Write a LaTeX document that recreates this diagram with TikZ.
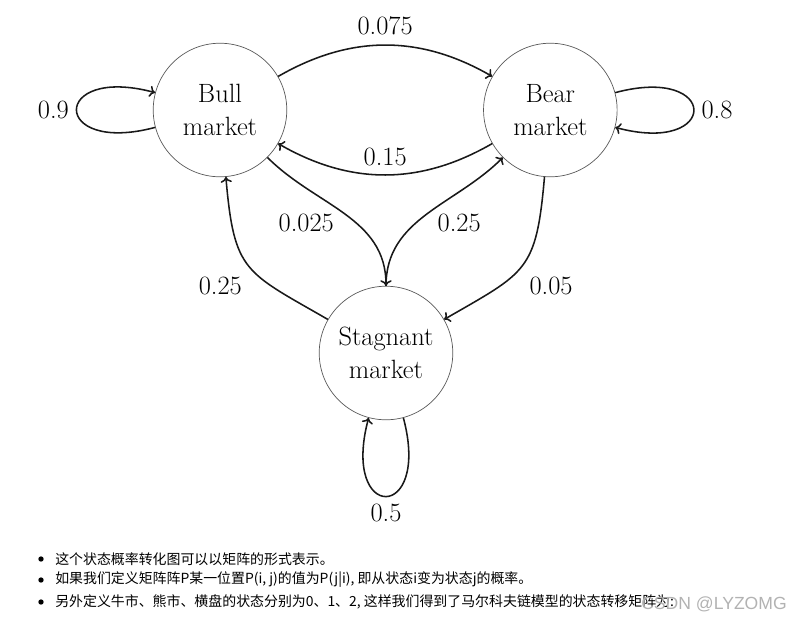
\documentclass[tikz,border=0pt]{standalone}
\usepackage{fontspec}
\newfontfamily\cjk{Noto Sans CJK SC}
\newfontfamily\wmfont{Liberation Sans}
\usetikzlibrary{arrows.meta,positioning}

\begin{document}
\begin{tikzpicture}[
    x=0.025cm, y=-0.025cm,
    font=\fontsize{18.8}{23.5}\selectfont,
    >={To[length=4pt,width=8pt]},
    market/.style={draw=black!65, line width=0.5pt, circle, minimum size=95pt, inner sep=0pt, align=center},
    trans/.style={->, line width=1.1pt, draw=black!90},
    prob/.style={inner sep=5pt},
    dot/.style={circle, fill=black, inner sep=0pt, minimum size=3.8pt},
    note/.style={anchor=west, inner sep=0pt, font=\cjk\fontsize{9.9}{12}\selectfont}
]
\useasboundingbox (0,0) rectangle (802,621);
\node[market] (bull) at (220,110) {Bull\\market};
\node[market, right=4.9cm of bull] (bear) {Bear\\market};
\node[market] (stag) at (386,353) {Stagnant\\market};

\draw[trans] (bull) to[bend left=30] node[prob, above=2pt] {0.075} (bear);
\draw[trans] (bear) to[bend left=30] node[prob, above=1pt] {0.15} (bull);
\draw[trans] (bull) to[out=-45, in=90] node[prob, pos=0.58, left=10pt] {0.025} (stag);
\draw[trans] (stag) to[out=90, in=-135] node[prob, pos=0.42, right=10pt] {0.25} (bear);
\draw[trans] (stag) to[out=150, in=-85, looseness=1.4] node[prob, pos=0.3, left=15pt] {0.25} (bull);
\draw[trans] (bear) to[out=-95, in=30, looseness=1.4] node[prob, pos=0.7, right=15pt] {0.05} (stag);
\draw[trans] (bull) to[loop left] node[prob, left] {0.9} (bull);
\draw[trans] (bear) to[loop right] node[prob, right] {0.8} (bear);
\draw[trans] (stag) to[loop below] node[prob, below] {0.5} (stag);

\node[dot] (b1) at (41,559) {};
\node[dot] (b2) at (41,580) {};
\node[dot] (b3) at (41,602) {};
\node[note] (line1) at (55,559) {这个状态概率转化图可以以矩阵的形式表示。};
\node[note] (line2) at (55,580) {如果我们定义矩阵阵P某一位置P(i, j)的值为P(j|i), 即从状态i变为状态j的概率。};
\node[note] (line3) at (55,602) {另外定义牛市、熊市、横盘的状态分别为0、1、2, 这样我们得到了马尔科夫链模型的状态转移矩阵为:};
\node[font=\wmfont\fontsize{12.5}{14}\selectfont, text=black!30] (mark) at (714,604) {CSDN @LYZOMG};
\end{tikzpicture}
\end{document}
